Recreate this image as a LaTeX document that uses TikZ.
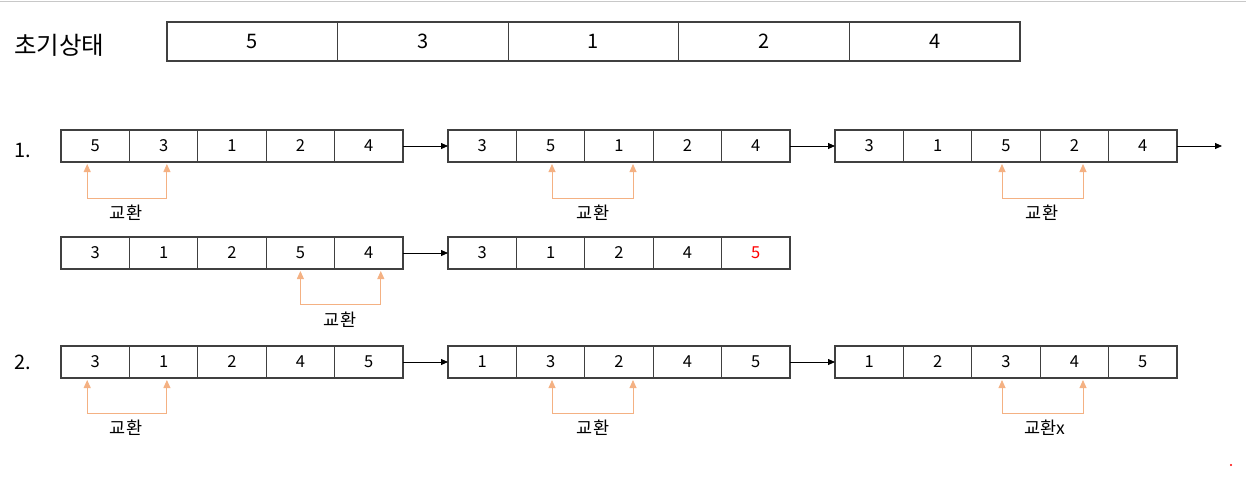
\documentclass[tikz,border=0pt]{standalone}
\usepackage{fontspec}
\setmainfont{Noto Sans CJK KR}
\usetikzlibrary{arrows.meta,calc}
\definecolor{cellline}{HTML}{404040}
\definecolor{swaporange}{HTML}{F4B183}
\definecolor{topline}{HTML}{C8C8C8}
\tikzset{
  cell/.style={draw=cellline, line width=1.3pt, inner sep=0pt, outer sep=0pt, anchor=north west, font=\fontsize{16.5}{16.5}\selectfont},
  bigcell/.style={cell, font=\fontsize{20}{20}\selectfont},
  flow/.style={draw=black, line width=0.8pt, -{Triangle[length=7pt,width=6pt]}},
  swp/.style={draw=swaporange, line width=0.9pt, {Triangle[length=8pt,width=7pt]}-{Triangle[length=8pt,width=7pt]}},
  swlabel/.style={font=\fontsize{17.5}{17.5}\selectfont, inner sep=0pt},
  rowlabel/.style={font=\fontsize{20}{20}\selectfont, inner sep=0pt, anchor=west}
}
\newcommand{\mkarray}[7]{%
  \foreach \v [count=\i] in {#7} {
    \node[#6, minimum width=#4pt, minimum height=#5pt] (#1\i) at ({#2+(\i-1)*#4}, #3) {\v};
  }}
\newcommand{\swapmark}[6]{%
  \draw[swp] ([xshift=#2pt,yshift=-2pt]#1.south) -- ++(0,#5) -| ([xshift=#4pt,yshift=-2pt]#3.south);}
\begin{document}
\begin{tikzpicture}[x=1pt,y=-1pt]
\useasboundingbox (0,0) rectangle (1246,482);
\draw[topline, line width=1pt] (0,1) -- (1246,1);
\node[rowlabel, font=\fontsize{24.5}{24.5}\selectfont] (init) at (14,45) {초기상태};
\mkarray{T}{167}{22}{170.6}{39}{bigcell}{5,3,1,2,4}
\node[rowlabel] (n1) at (14,150) {1.};
\node[rowlabel] (n2) at (14,362) {2.};
% row 1
\mkarray{A}{61}{130}{68.4}{32}{cell}{5,3,1,2,4}
\mkarray{B}{448}{130}{68.4}{32}{cell}{3,5,1,2,4}
\mkarray{C}{835}{130}{68.4}{32}{cell}{3,1,5,2,4}
% row 2
\mkarray{D}{61}{237}{68.4}{32}{cell}{3,1,2,5,4}
\mkarray{E}{448}{237}{68.4}{32}{cell}{3,1,2,4,\textcolor{red}{5}}
% row 3
\mkarray{F}{61}{346}{68.4}{32}{cell}{3,1,2,4,5}
\mkarray{G}{448}{346}{68.4}{32}{cell}{1,3,2,4,5}
\mkarray{H}{835}{346}{68.4}{32}{cell}{1,2,3,4,5}
% flow arrows
\coordinate (end1) at (1222,146);
\draw[flow] (A5.east) -- (B1.west);
\draw[flow] (B5.east) -- (C1.west);
\draw[flow] (C5.east) -- (end1);
\draw[flow] (D5.east) -- (E1.west);
\draw[flow] (F5.east) -- (G1.west);
\draw[flow] (G5.east) -- (H1.west);
% swaps
\swapmark{A1}{-8}{A2}{3.3}{34}{}
\swapmark{B2}{1.4}{B3}{14}{34}{}
\swapmark{C3}{-4}{C4}{8.6}{34}{}
\swapmark{D4}{0}{D5}{12}{33}{}
\swapmark{F1}{-8}{F2}{3.3}{33}{}
\swapmark{G2}{1.4}{G3}{14}{33}{}
\swapmark{H3}{-4}{H4}{8.6}{33}{}
\node[swlabel] (s1) at (126,213) {교환};
\node[swlabel] (s2) at (593,213) {교환};
\node[swlabel] (s3) at (1042,213) {교환};
\node[swlabel] (s4) at (340,320) {교환};
\node[swlabel] (s5) at (126,428) {교환};
\node[swlabel] (s6) at (593,428) {교환};
\node[swlabel] (s7) at (1045,428) {교환x};
\fill[red] (1231,465) circle (1.1);
\end{tikzpicture}
\end{document}
